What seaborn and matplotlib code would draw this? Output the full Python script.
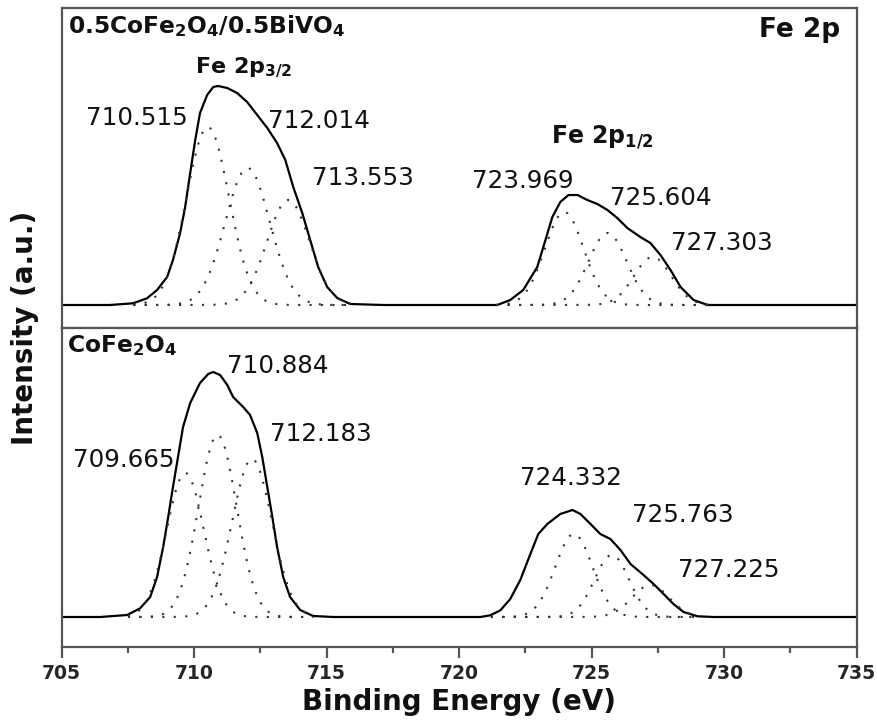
import numpy as np
import matplotlib
matplotlib.use("Agg")
import matplotlib.pyplot as plt
import seaborn as sns

# ---------------- data ----------------
# measured envelopes, binding energy (eV) and intensity (a.u.)
top_env_be = [705.0, 706.82, 707.69, 708.22, 708.60, 708.98, 709.20, 709.47, 709.66, 709.85,
              710.04, 710.22, 710.49, 710.72, 710.90, 711.25, 711.62, 712.00, 712.38, 712.76,
              713.13, 713.44, 713.74, 714.08, 714.38, 714.68, 715.02, 715.40, 715.89, 717.14,
              720.8, 721.44, 721.93, 722.42, 722.95, 723.26, 723.52, 723.82, 724.13, 724.47,
              724.84, 725.22, 725.60, 725.97, 726.35, 726.84, 727.22, 727.60, 727.98, 728.36,
              728.85, 729.38, 730.5, 735.0]
top_env_int = [0, 0, 1.7, 6.7, 15, 28, 45, 72, 98, 132,
               165, 192, 210, 218, 219, 217, 212, 203, 190, 177,
               162, 145, 118, 92, 65, 38, 18, 7, 1, 0,
               0, 0, 5, 15, 38, 65, 88, 103, 110, 110,
               105, 101, 95, 87, 77, 68, 62, 50, 35, 18,
               5, 0, 0, 0]

bot_env_be = [705.0, 706.45, 707.47, 707.96, 708.34, 708.60, 708.83, 709.02, 709.20, 709.39,
              709.58, 709.85, 710.22, 710.53, 710.72, 710.98, 711.25, 711.47, 711.85, 712.11,
              712.38, 712.57, 712.76, 712.95, 713.13, 713.36, 713.62, 714.00, 714.49, 715.25,
              720.4, 720.80, 721.18, 721.56, 721.93, 722.31, 722.69, 722.99, 723.33, 723.82,
              724.28, 724.58, 724.96, 725.33, 725.71, 726.09, 726.47, 726.96, 727.34, 727.72,
              728.09, 728.47, 729.00, 729.60, 735.0]
bot_env_int = [0, 0, 2, 8.7, 20, 40, 70, 100, 130, 160,
               190, 214, 234, 243, 245, 242, 232, 220, 210, 202,
               184, 160, 130, 100, 70, 40, 20, 7, 1, 0,
               0, 0, 1.7, 6.7, 18, 37, 63, 83, 93, 103,
               107, 103, 93, 83, 78, 67, 53, 42, 33, 23,
               13, 5, 0.7, 0, 0]

# fitted components: centre (eV), height (a.u.), sigma (eV), fit window (eV)
top_centers = [710.515, 712.014, 713.553, 723.969, 725.604, 727.303]
top_heights = [178, 137, 105, 93, 72, 48]
top_sigmas = [0.80, 0.84, 0.80, 0.73, 0.72, 0.70]
top_win_lo = [707.7, 707.7, 707.7, 721.4, 721.4, 721.4]
top_win_hi = [715.9, 715.9, 715.9, 729.4, 729.4, 729.4]

bot_centers = [709.665, 710.884, 712.183, 724.332, 725.763, 727.225]
bot_heights = [144, 182, 158, 83, 62, 32]
bot_sigmas = [0.70, 0.72, 0.75, 0.70, 0.65, 0.70]
bot_win_lo = [707.5, 707.5, 707.5, 721.2, 721.2, 721.2]
bot_win_hi = [714.5, 714.5, 714.5, 729.0, 729.0, 729.0]

x_ticks = [705, 710, 715, 720, 725, 730, 735]

# ---------------- layout (annotation positions: left x in eV, baseline y) ----------------
top_label_pos = [(705.92, 180), (712.79, 177), (714.45, 120),
                 (720.50, 117), (725.71, 100), (727.98, 55)]
bot_label_pos = [(705.43, 150), (711.24, 244), (712.87, 176),
                 (722.31, 132), (726.54, 95), (728.28, 40)]

# ---------------- style ----------------
sns.set_theme(style="white")
plt.rcParams["font.family"] = ["DejaVu Sans"]
plt.rcParams["mathtext.default"] = "regular"

W, H = 877, 722
fig = plt.figure(figsize=(W / 100, H / 100), dpi=100)
L, R = 61.7 / W, 856.5 / W
ax_top = fig.add_axes([L, 1 - 328 / H, R - L, (328 - 8) / H])
ax_bot = fig.add_axes([L, 1 - 647 / H, R - L, (647 - 328) / H])

spine_col = "#555555"
dot_col = "#333333"


def draw_panel(ax, env_be, env_int, centers, heights, sigmas, lo, hi, label_pos, ylim):
    sns.lineplot(x=env_be, y=env_int, ax=ax, color="black", linewidth=1.6,
                 estimator=None, errorbar=None)
    for c, h, s, a, b in zip(centers, heights, sigmas, lo, hi):
        xs = np.linspace(a, b, 300)
        ys = h * np.exp(-0.5 * ((xs - c) / s) ** 2)
        sns.lineplot(x=xs, y=ys, ax=ax, color=dot_col, linewidth=1.5,
                     linestyle=(0, (1, 4.5)), estimator=None, errorbar=None)
    for c, (px, py) in zip(centers, label_pos):
        ax.text(px, py, f"{c:.3f}", fontsize=17.7, va="baseline", ha="left", color="#111111")
    ax.set_xlim(705, 735)
    ax.set_ylim(*ylim)
    ax.set_xlabel("")
    ax.set_ylabel("")
    ax.set_yticks([])
    for sp in ax.spines.values():
        sp.set_color(spine_col)
        sp.set_linewidth(1.6)


draw_panel(ax_top, top_env_be, top_env_int, top_centers, top_heights, top_sigmas,
           top_win_lo, top_win_hi, top_label_pos, (-23, 297))
draw_panel(ax_bot, bot_env_be, bot_env_int, bot_centers, bot_heights, bot_sigmas,
           bot_win_lo, bot_win_hi, bot_label_pos, (-30, 289))

ax_top.tick_params(bottom=False, left=False, labelbottom=False, labelleft=False)
ax_top.set_xticks([])

ax_bot.set_xticks(x_ticks)
ax_bot.set_xticklabels([str(t) for t in x_ticks], fontsize=13.5, fontweight="bold")
ax_bot.set_xticks([707.5, 712.5, 717.5, 722.5, 727.5, 732.5], minor=True)
ax_bot.tick_params(axis="x", which="major", direction="out", length=8, width=1.6,
                   color=spine_col, pad=4, bottom=True)
ax_bot.tick_params(axis="x", which="minor", direction="out", length=4.5, width=1.6,
                   color=spine_col, bottom=True)
ax_bot.tick_params(left=False)

# panel texts
ax_top.text(705.24, 272, r"0.5CoFe$_2$O$_4$/0.5BiVO$_4$", fontsize=16.8,
            fontweight="bold", va="baseline", ha="left", color="#111111")
ax_top.text(734.40, 268, "Fe 2p", fontsize=19, fontweight="bold",
            va="baseline", ha="right", color="#111111")
ax_top.text(710.04, 232, r"Fe 2p$_{3/2}$", fontsize=16, fontweight="bold",
            va="baseline", ha="left", color="#111111")
ax_top.text(723.45, 162, r"Fe 2p$_{1/2}$", fontsize=17, fontweight="bold",
            va="baseline", ha="left", color="#111111")
ax_bot.text(705.2, 265, r"CoFe$_2$O$_4$", fontsize=16.8, fontweight="bold",
            va="baseline", ha="left", color="#111111")

# axis titles
fig.text(25 / W, 1 - 328 / H, "Intensity (a.u.)", rotation=90, fontsize=20,
         fontweight="bold", ha="center", va="center", color="#111111")
fig.text(459 / W, 1 - 710 / H, "Binding Energy (eV)", fontsize=20,
         fontweight="bold", ha="center", va="baseline", color="#111111")

fig.savefig("out.png", dpi=100)
